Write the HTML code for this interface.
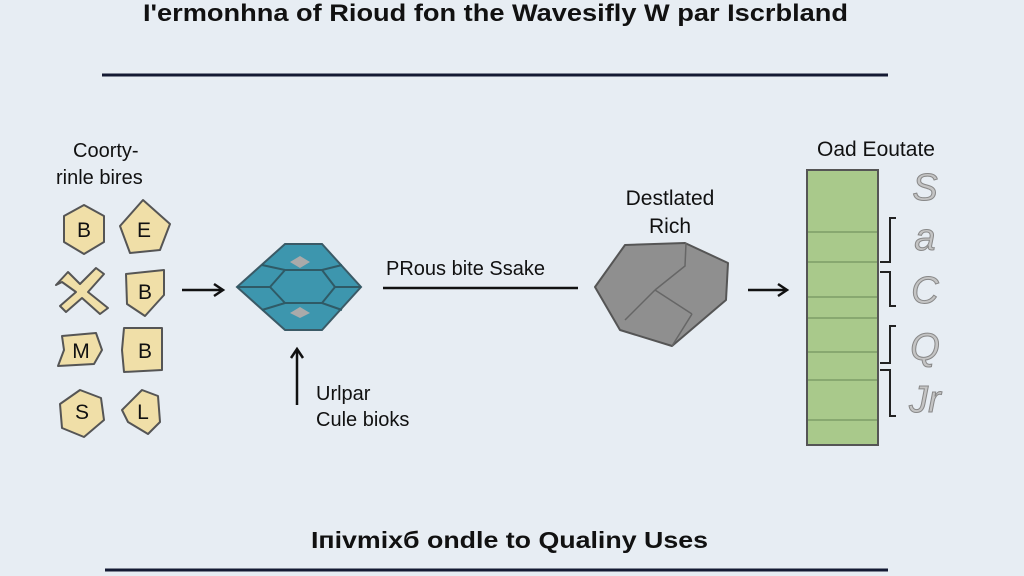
<!DOCTYPE html>
<html><head><meta charset="utf-8"><style>
html,body{margin:0;padding:0;background:#e7edf3;}
svg{display:block;}
text{font-family:"Liberation Sans",sans-serif;fill:#111;}
</style></head><body>
<svg width="1024" height="576" viewBox="0 0 1024 576" xmlns="http://www.w3.org/2000/svg">
<rect width="1024" height="576" fill="#e7edf3"/>
<text x="143" y="21" font-size="24" font-weight="bold" textLength="705" lengthAdjust="spacingAndGlyphs">I'ermonhna of Rioud fon the Wavesifly W par Iscrbland</text>
<line x1="102" y1="75" x2="888" y2="75" stroke="#141a33" stroke-width="3"/>
<text x="311" y="548" font-size="23" font-weight="bold" textLength="397" lengthAdjust="spacingAndGlyphs">Iпivmixб ondle to Qualiny Uses</text>
<line x1="105" y1="570" x2="888" y2="570" stroke="#141a33" stroke-width="3"/>

<text x="73" y="157" font-size="20">Coorty-</text>
<text x="56" y="184" font-size="20">rinle bires</text>

<g fill="#f0dfa8" stroke="#555" stroke-width="2" stroke-linejoin="round">
<polygon points="84,205 104,216 104,242 84,254 64,242 64,216"/>
<polygon points="143,200 170,224 160,250 130,253 120,226"/>
<path d="M56,285 L68,272 L80,284 L96,268 L104,274 L88,292 L108,308 L100,314 L82,298 L66,312 L60,306 L76,292 L62,282 Z"/>
<path d="M126,274 L164,270 L164,295 L145,316 L127,304 Z"/>
<path d="M62,336 L96,333 L102,350 L94,364 L58,366 L64,350 Z"/>
<path d="M124,328 L162,328 L162,370 L124,372 L122,350 Z"/>
<polygon points="80,390 101,398 104,420 84,437 62,428 60,404"/>
<path d="M142,390 L158,396 L160,422 L148,434 L128,422 L122,410 Z"/>
</g>
<g font-size="21" text-anchor="middle">
<text x="84" y="237">B</text><text x="144" y="237">E</text>
<text x="145" y="299">B</text>
<text x="81" y="358">M</text><text x="145" y="358">B</text>
<text x="82" y="419">S</text><text x="143" y="419">L</text>
</g>

<g stroke="#111" stroke-width="2.5" fill="none">
<line x1="182" y1="290" x2="222" y2="290"/><polyline points="214,284 223,290 214,296"/>
<line x1="297" y1="405" x2="297" y2="350"/><polyline points="291,358 297,349 303,358"/>
<line x1="748" y1="290" x2="786" y2="290"/><polyline points="778,284 787,290 778,296"/>
</g>

<polygon points="237,287 285,244 322,244 361,287 322,330 285,330" fill="#3d96ae" stroke="#3b5a66" stroke-width="2"/>
<g stroke="#2f5a66" stroke-width="2" fill="none">
<polyline points="262,265 285,270 322,270 342,265"/>
<polyline points="262,310 285,303 322,303 342,310"/>
<line x1="285" y1="270" x2="270" y2="287"/><line x1="270" y1="287" x2="285" y2="303"/>
<line x1="322" y1="270" x2="335" y2="287"/><line x1="335" y1="287" x2="322" y2="303"/>
<line x1="237" y1="287" x2="270" y2="287"/><line x1="335" y1="287" x2="361" y2="287"/>
</g>
<polygon points="290,262 300,256 310,262 300,268" fill="#aaa"/>
<polygon points="290,313 300,307 310,313 300,318" fill="#aaa"/>

<text x="316" y="400" font-size="20">Urlpar</text>
<text x="316" y="426" font-size="20">Cule bioks</text>

<text x="386" y="275" font-size="20">PRous bite Ssake</text>
<line x1="383" y1="288" x2="578" y2="288" stroke="#111" stroke-width="2.5"/>

<text x="670" y="205" font-size="21" text-anchor="middle">Destlated</text>
<text x="670" y="233" font-size="21" text-anchor="middle">Rich</text>
<polygon points="595,287 625,245 685,243 728,263 726,300 672,346 620,330" fill="#8f8f8f" stroke="#555" stroke-width="2" stroke-linejoin="round"/>
<g stroke="#666" stroke-width="1.5" fill="none">
<polyline points="655,290 685,266 686,243"/><line x1="655" y1="290" x2="625" y2="320"/><line x1="655" y1="290" x2="692" y2="314"/><line x1="692" y1="314" x2="672" y2="346"/>
</g>

<text x="876" y="156" font-size="21" text-anchor="middle">Oad Eoutate</text>
<rect x="807" y="170" width="71" height="275" fill="#a9c98b" stroke="#555" stroke-width="2"/>
<g stroke="#7e9e68" stroke-width="1.5" fill="none">
<line x1="808" y1="232" x2="877" y2="232"/><line x1="808" y1="262" x2="877" y2="262"/>
<line x1="808" y1="297" x2="877" y2="297"/><line x1="808" y1="318" x2="877" y2="318"/>
<line x1="808" y1="352" x2="877" y2="352"/><line x1="808" y1="380" x2="877" y2="380"/>
<line x1="808" y1="420" x2="877" y2="420"/>
</g>
<g stroke="#222" stroke-width="2" fill="none">
<polyline points="880,262 890,262 890,218 896,218"/>
<polyline points="880,272 890,272 890,306 896,306"/>
<polyline points="880,363 890,363 890,326 896,326"/>
<polyline points="880,370 890,370 890,416 896,416"/>
</g>
<g font-size="38" fill="#bbb" stroke="#888" stroke-width="1" font-style="italic" text-anchor="middle">
<text x="925" y="200" style="fill:#c4c4c4">S</text>
<text x="925" y="250" style="fill:#c4c4c4">a</text>
<text x="925" y="303" style="fill:#c4c4c4">C</text>
<text x="925" y="360" style="fill:#c4c4c4">Q</text>
<text x="925" y="412" style="fill:#c4c4c4">Jr</text>
</g>
</svg>
</body></html>
